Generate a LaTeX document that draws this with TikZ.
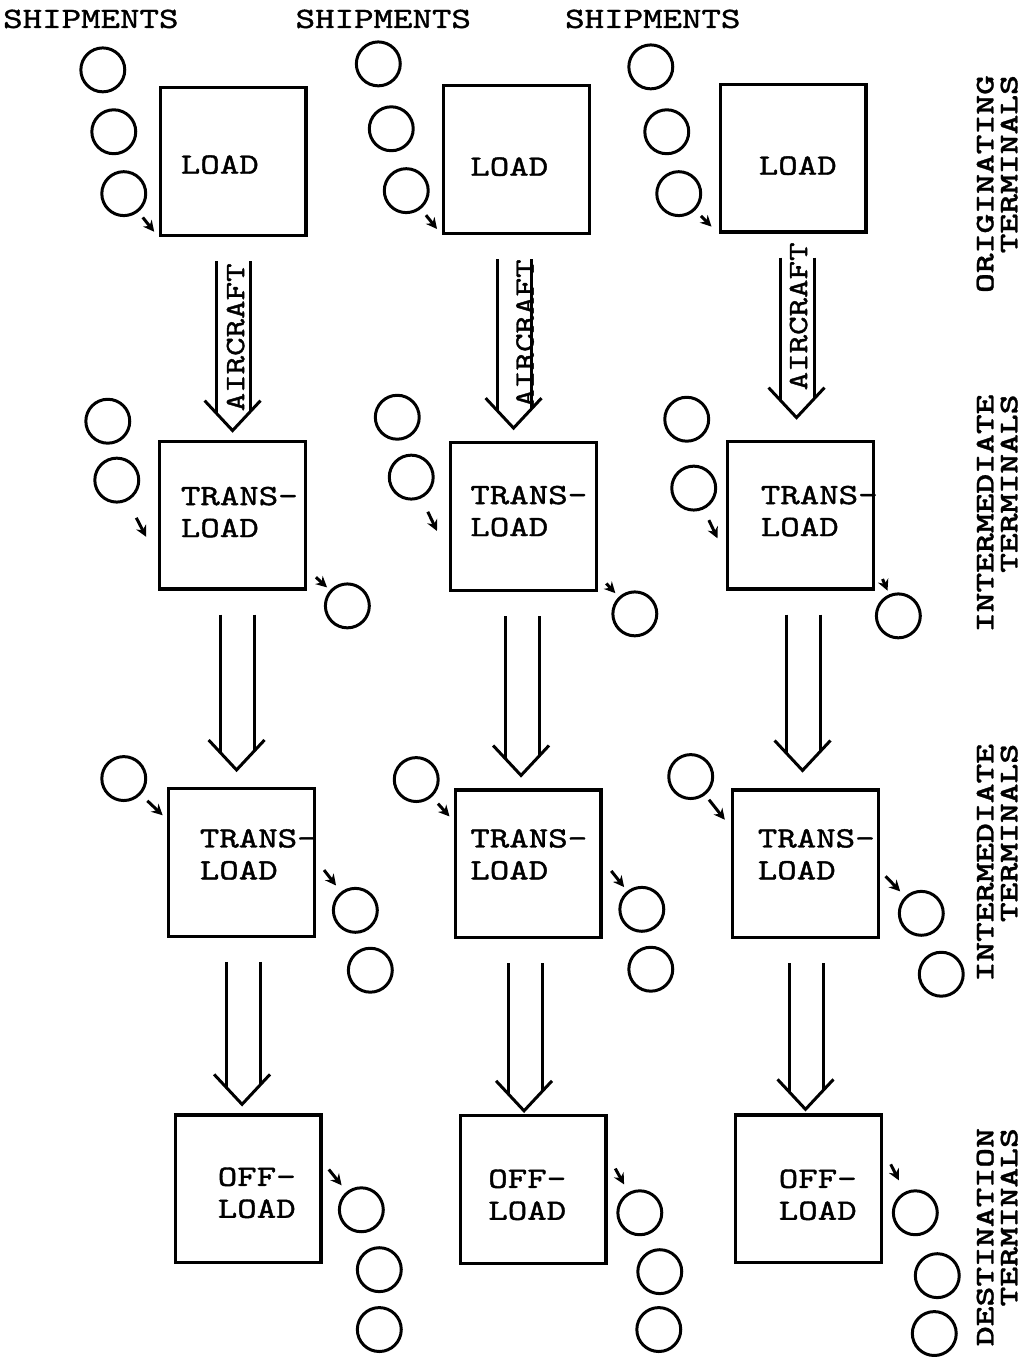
\documentclass[tikz,border=0pt]{standalone}
\usepackage{fontspec}
\usepackage{tikz}
\usetikzlibrary{arrows.meta,calc}
\newfontfamily\typefont{lmmono10-regular.otf}[FakeStretch=1.26,FakeBold=1.3]
\newfontfamily\termfont{lmmonolt10-bold.otf}[FakeStretch=1.4,FakeBold=1]
\tikzset{
  termbox/.style={draw,line width=3.3pt,minimum width=146pt,minimum height=148pt,inner sep=0pt},
  lbl/.style={font=\typefont\fontsize{29.5}{32}\selectfont,inner sep=0pt,anchor=west,align=left},
  shipcirc/.style={circle,draw,line width=3pt,minimum size=44pt,inner sep=0pt},
  smallarr/.style={line width=3pt,-{Stealth[length=11pt,width=11pt]}},
  hollow/.style={line width=3pt},
  craftlbl/.style={font=\typefont\fontsize{28}{32}\selectfont,rotate=90,inner sep=0pt},
  sidelbl/.style={font=\termfont\fontsize{27}{24}\selectfont,rotate=90,anchor=east,align=right,inner sep=0pt},
}
\begin{document}
\begin{tikzpicture}[x=1pt,y=-1pt]
  \fill[white] (0,0) rectangle (1024,1357);
  % terminal boxes, one row per stage
  \foreach \c/\x/\y in {1/233.5/162,2/517.5/160,3/794.5/158.5} \node[termbox] (ld\c) at (\x,\y) {};
  \foreach \c/\x/\y in {1/233/516,2/524.5/517.5,3/802/516} \node[termbox] (ta\c) at (\x,\y) {};
  \foreach \c/\x/\y in {1/242/864,2/529/865.5,3/807/865.5} \node[termbox] (tb\c) at (\x,\y) {};
  \foreach \c/\x/\y in {1/248.5/1191,2/534/1191.5,3/810/1191} \node[termbox] (of\c) at (\x,\y) {};
  \foreach \c/\x/\y in {1/181/165,2/471/167,3/760/166} \node[lbl] (ldt\c) at (\x,\y) {LOAD};
  \foreach \c/\x/\y in {1/181/513,2/471/512,3/762/512} \node[lbl] (tat\c) at (\x,\y) {TRANS-\\LOAD};
  \foreach \c/\x/\y in {1/200/856,2/471/856,3/759/856} \node[lbl] (tbt\c) at (\x,\y) {TRANS-\\LOAD};
  \foreach \c/\x/\y in {1/218/1195,2/489/1197,3/780/1197} \node[lbl] (oft\c) at (\x,\y) {OFF-\\LOAD};
  \foreach \c/\x in {1/3,2/296,3/566} \node[lbl] (sh\c) at (\x,19) {SHIPMENTS};
  % shipments
  \foreach \n/\x/\y in {s11/103/70,s12/114/132,s13/124/194,s21/379/64,s22/392/129,s23/407/191,
    s31/652/67,s32/668/132,s33/680/194,
    ia11/108/422,ia12/117/481,ia21/398/418,ia22/412/478,ia31/688/420,ia32/695/489,
    oa1/348/607,oa2/636/615,oa3/900/617,
    ib1/124/780,ib2/417/781,ib3/692/778,
    ob11/356/912,ob12/371/972,ob21/643/911,ob22/652/971,ob31/923/915,ob32/943/976,
    oc11/362/1212,oc12/380/1272,oc13/380/1332,oc21/641/1215,oc22/661/1274,oc23/660/1332,
    oc31/917/1215,oc32/939/1278,oc33/936/1336}
    \node[shipcirc] (\n) at (\x,\y) {};
  \foreach \a/\b/\p/\q in {s13/ld1.south west/7/7,s23/ld2.south west/8/8,s33/ld3.south west/8/10,
    ia12/ta1.211/19/26,ia22/ta2.208/15/28,ia32/ta3.209/12/20,
    ta1.324/oa1/12/4,ta2.322/oa2/12/5,ta3.328/oa3/19/4,
    ib1/tb1.150/9/6,ib2/tb2.150/9/6,ib3/tb3.154/6/10,
    tb1.2/ob11/13/8,tb2.3/ob21/14/5,tb3.355/ob31/8/7,
    of1.20/oc11/10/8,of2.25/oc21/16/9,of3.28/oc31/17/13}
    \draw[smallarr,shorten <=\p pt,shorten >=\q pt] (\a) -- (\b);
  % flights between stages
  \foreach \u/\l/\dx/\g in {ld1/ta1/0/9,ld2/ta2/-10/13,ld3/ta3/-4/22,ta1/tb1/-5/17,ta2/tb2/-7/13,
    ta3/tb3/-3/18,tb1/of1/-6/9,tb2/of2/-9/3,tb3/of3/-3/4} {
    \coordinate (arrtip) at ($(\l.north)+(\dx,-\g)$);
    \coordinate (arrtop) at ($(\u.south)+(0,24)$);
    \draw[hollow] ($(arrtip|-arrtop)+(-16,0)$) -- ($(arrtip)+(-16,-17)$);
    \draw[hollow] ($(arrtip|-arrtop)+(18,0)$) -- ($(arrtip)+(18,-19)$);
    \draw[hollow] ($(arrtip)+(-28,-30)$) -- (arrtip) -- ($(arrtip)+(28,-30)$);
  }
  \foreach \c/\x/\y in {1/236/338,2/526/334,3/800/317} \node[craftlbl] (ac\c) at (\x,\y) {AIRCRAFT};
  \node[sidelbl] (orig) at (999,75) {ORIGINATING\\TERMINALS};
  \node[sidelbl] (inter1) at (999,395) {INTERMEDIATE\\TERMINALS};
  \node[sidelbl] (inter2) at (999,745) {INTERMEDIATE\\TERMINALS};
  \node[sidelbl] (dest) at (999,1130) {DESTINATION\\TERMINALS};
\end{tikzpicture}
\end{document}
